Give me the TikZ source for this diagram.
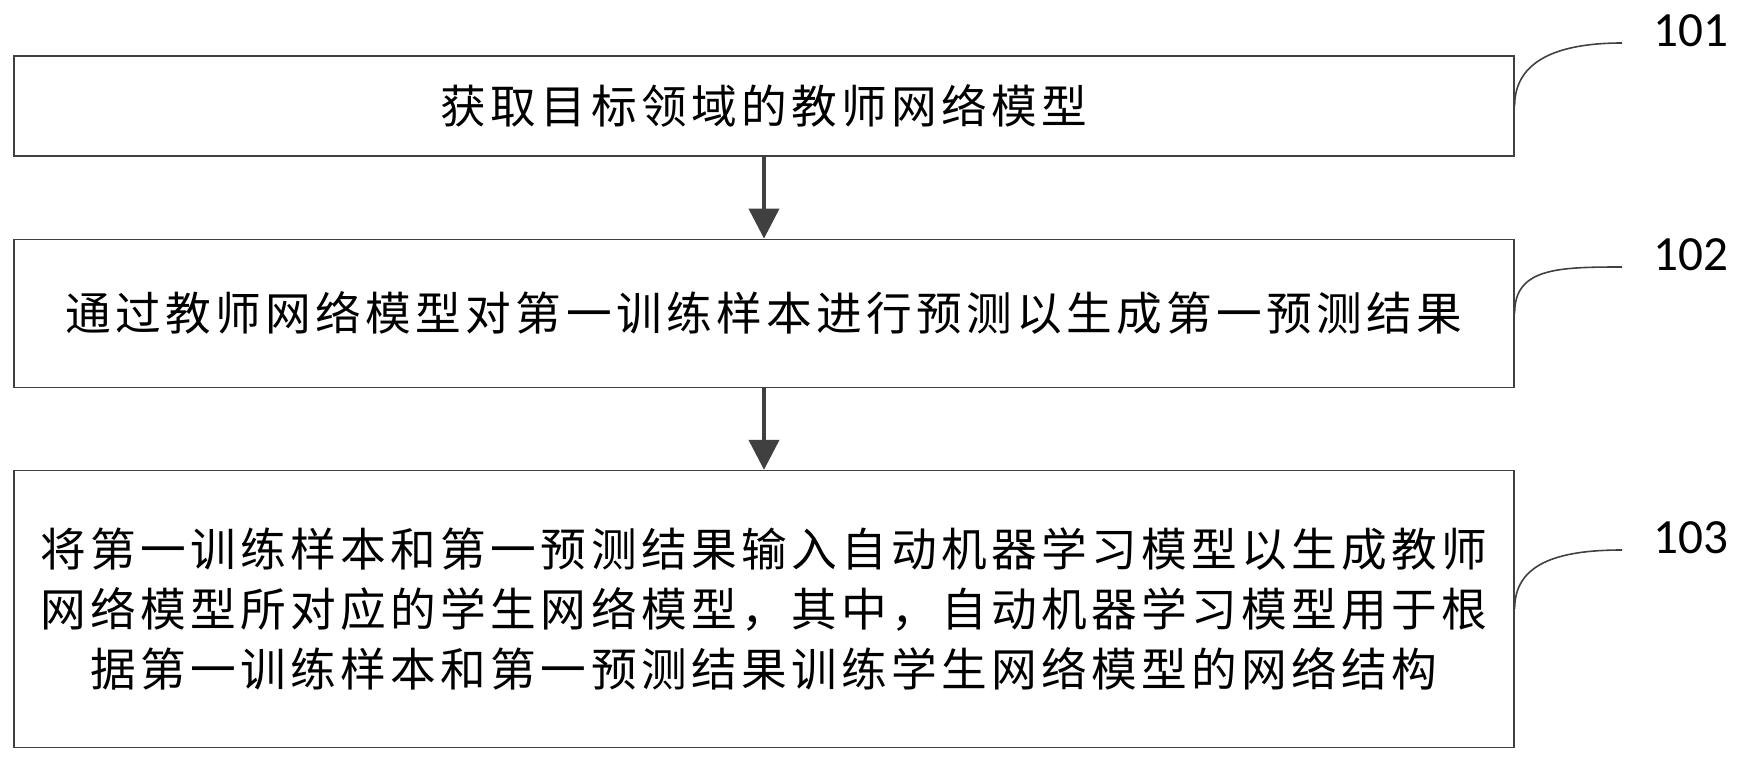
\documentclass[tikz,border=0pt]{standalone}
\usepackage{fontspec}
\setmainfont{Carlito}
\newfontfamily\cjk[LetterSpace=9.5]{Noto Sans CJK SC}
\usetikzlibrary{positioning}
\usetikzlibrary{arrows.meta}
\definecolor{linegray}{RGB}{64,64,64}
\tikzset{
  stepbox/.style={draw=linegray,line width=0.7pt,minimum width=30cm,inner sep=0pt,align=center,font=\cjk\fontsize{26}{34.1}\selectfont},
  flow/.style={draw=linegray,line width=2.3pt,-{Triangle[width=0.6cm,length=0.6cm]}},
  tag/.style={anchor=west,inner sep=0pt,font=\fontsize{28}{30}\selectfont},
  lead/.style={draw=linegray,line width=0.9pt}
}
\begin{document}
\begin{tikzpicture}[node distance=1.64cm]
                \useasboundingbox (0,0) rectangle (34.84,15.18);

                \node[stepbox,minimum height=2cm] (s1) at (15.28,13.06) {获取目标领域的教师网络模型};
                \node[stepbox,minimum height=2.96cm,below=of s1] (s2) {通过教师网络模型对第一训练样本进行预测以生成第一预测结果};
                \node[stepbox,minimum height=5.54cm,below=of s2] (s3) {将第一训练样本和第一预测结果输入自动机器学习模型以生成教师\\网络模型所对应的学生网络模型，其中，自动机器学习模型用于根\\据第一训练样本和第一预测结果训练学生网络模型的网络结构};

                \draw[flow] (s1) -- (s2);
                \draw[flow] (s2) -- (s3);

                % step numbers
                \node[tag] (n1) at (33.06,14.56) {101};
                \node[tag] (n2) at (33.06,10.08) {102};
                \node[tag] (n3) at (33.06,4.42) {103};

                \draw[lead] (s1.east) ..controls +(0,0.9) and +(-1.3,0).. ([xshift=-0.62cm,yshift=-0.24cm]n1.west);
                \draw[lead] (s2.east) ..controls +(0,0.9) and +(-1.3,0).. ([xshift=-0.62cm,yshift=-0.24cm]n2.west);
                \draw[lead] (s3.east) ..controls +(0,0.9) and +(-1.3,0).. ([xshift=-0.62cm,yshift=-0.24cm]n3.west);
              \end{tikzpicture}
\end{document}
